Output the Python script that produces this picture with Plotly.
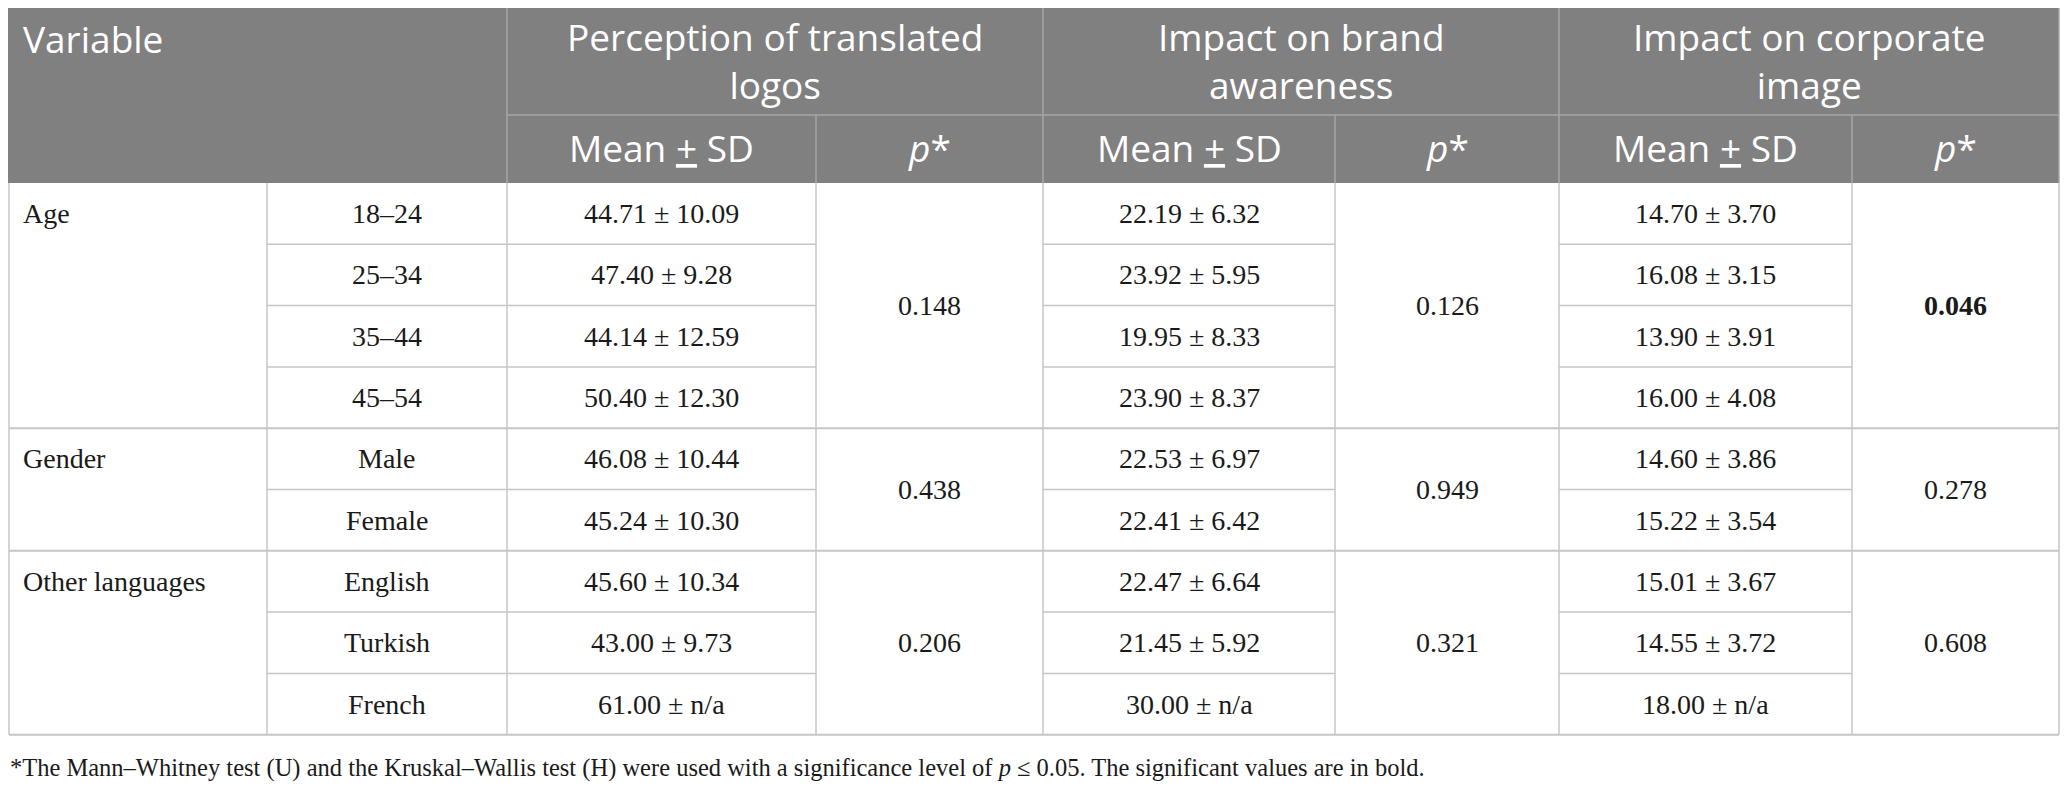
import plotly.graph_objects as go

# ---- data ----
groups = ["Age", "Gender", "Other languages"]
levels = [
    ["18–24", "25–34", "35–44", "45–54"],
    ["Male", "Female"],
    ["English", "Turkish", "French"],
]
measures = [
    "Perception of translated<br>logos",
    "Impact on brand<br>awareness",
    "Impact on corporate<br>image",
]

perception_mean = [44.71, 47.40, 44.14, 50.40, 46.08, 45.24, 45.60, 43.00, 61.00]
perception_sd = [10.09, 9.28, 12.59, 12.30, 10.44, 10.30, 10.34, 9.73, None]
perception_p = [0.148, 0.438, 0.206]

brand_mean = [22.19, 23.92, 19.95, 23.90, 22.53, 22.41, 22.47, 21.45, 30.00]
brand_sd = [6.32, 5.95, 8.33, 8.37, 6.97, 6.42, 6.64, 5.92, None]
brand_p = [0.126, 0.949, 0.321]

image_mean = [14.70, 16.08, 13.90, 16.00, 14.60, 15.22, 15.01, 14.55, 18.00]
image_sd = [3.70, 3.15, 3.91, 4.08, 3.86, 3.54, 3.67, 3.72, None]
image_p = [0.046, 0.278, 0.608]

alpha = 0.05
footnote = ("*The Mann–Whitney test (U) and the Kruskal–Wallis test (H) were used with a "
            "significance level of <i>p</i> ≤ 0.05. The significant values are in bold.")

# ---- layout constants ----
W, H = 2068, 790
PAD = 8  # default body margin of the html page; the plot starts there
col_edges = [PAD + 1, 267, 507, 816, 1043, 1335, 1559, 1852, 2059]
top, head_mid, head_bot = 4, 115, 183
row_h = 61.3
HEAD_BG = "#808080"
HEAD_LINE = "#a6a6a6"
BODY_LINE = "#c6c6c6"
INK = "#1a1a1a"
SANS = "Open Sans"
SERIF = "Liberation Serif"
HEAD_SIZE = 37
BODY_SIZE = 28

fig = go.Figure()
shapes = []
annotations = []


def line(x0, y0, x1, y1, color, w=1.5):
    shapes.append(dict(type="line", xref="x", yref="y", x0=x0, y0=y0, x1=x1, y1=y1,
                       line=dict(color=color, width=w), layer="above"))


def text(x, y, s, size, color, family, xanchor="center", yanchor="middle"):
    annotations.append(dict(x=x, y=y, xref="x", yref="y", text=s, showarrow=False,
                            xanchor=xanchor, yanchor=yanchor,
                            font=dict(size=size, color=color, family=family)))


def mid(a, b):
    return (a + b) / 2


# header
shapes.append(dict(type="rect", xref="x", yref="y", x0=PAD, x1=col_edges[-1],
                   y0=top, y1=head_bot, fillcolor=HEAD_BG, line=dict(width=0), layer="below"))
line(PAD, top, col_edges[-1], top, "#c8c8c8", 2)
text(21, 38, "Variable", HEAD_SIZE, "white", SANS, xanchor="left")
for k, m in enumerate(measures):
    x0, x1, x2 = col_edges[2 + 2 * k], col_edges[3 + 2 * k], col_edges[4 + 2 * k]
    text(mid(x0, x2), mid(top, head_mid) + 1, m, HEAD_SIZE, "white", SANS)
    text(mid(x0, x1), mid(head_mid, head_bot) - 2, "Mean <u>+</u> SD", HEAD_SIZE, "white", SANS)
    text(mid(x1, x2), mid(head_mid, head_bot) - 2, "<i>p</i>*", HEAD_SIZE, "white", SANS)
    line(x0, top, x0, head_bot, HEAD_LINE)
    line(x1, head_mid, x1, head_bot, HEAD_LINE)
line(col_edges[2], head_mid, col_edges[-1], head_mid, HEAD_LINE)
line(col_edges[-1], top, col_edges[-1], head_bot, HEAD_LINE)

# body
means = [perception_mean, brand_mean, image_mean]
sds = [perception_sd, brand_sd, image_sd]
pvals = [perception_p, brand_p, image_p]
n_rows = sum(len(lv) for lv in levels)
y_bottom = head_bot + n_rows * row_h

r = 0
for g, (grp, lv) in enumerate(zip(groups, levels)):
    g_top = head_bot + r * row_h
    g_bot = g_top + len(lv) * row_h
    text(21, g_top + row_h / 2, grp, BODY_SIZE, INK, SERIF, xanchor="left")
    for j, lab in enumerate(lv):
        yc = g_top + (j + 0.5) * row_h
        text(mid(col_edges[1], col_edges[2]), yc, lab, BODY_SIZE, INK, SERIF)
        for k in range(3):
            sd = sds[k][r + j]
            s = f"{means[k][r + j]:.2f} ± " + (f"{sd:.2f}" if sd is not None else "n/a")
            text(mid(col_edges[2 + 2 * k], col_edges[3 + 2 * k]), yc, s, BODY_SIZE, INK, SERIF)
        if j > 0:
            yl = g_top + j * row_h
            for c in (1, 2, 4, 6):
                line(col_edges[c], yl, col_edges[c + 1], yl, BODY_LINE)
    for k in range(3):
        p = pvals[k][g]
        s = f"{p:.3f}"
        if p <= alpha:
            s = f"<b>{s}</b>"
        text(mid(col_edges[3 + 2 * k], col_edges[4 + 2 * k]), mid(g_top, g_bot), s, BODY_SIZE, INK, SERIF)
    line(col_edges[0], g_bot, col_edges[-1], g_bot, BODY_LINE, 2)
    r += len(lv)

for x in col_edges:
    line(x, head_bot, x, y_bottom, BODY_LINE)

text(PAD, y_bottom + 33, footnote, 24.5, INK, SERIF, xanchor="left")

fig.update_layout(
    width=W - 2 * PAD, height=H - 2 * PAD,
    margin=dict(l=0, r=0, t=0, b=0),
    paper_bgcolor="white", plot_bgcolor="white",
    xaxis=dict(range=[PAD, W - PAD], visible=False, fixedrange=True),
    yaxis=dict(range=[H - PAD, PAD], visible=False, fixedrange=True),
    shapes=shapes, annotations=annotations,
    showlegend=False,
)

fig.write_html("out.html")
